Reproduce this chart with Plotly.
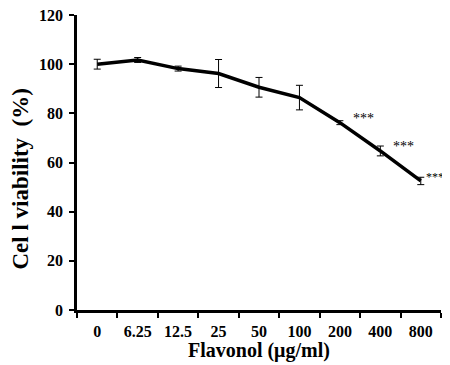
import plotly.graph_objects as go

categories = ["0", "6.25", "12.5", "25", "50", "100", "200", "400", "800"]
viability = [100.0, 101.7, 98.2, 96.2, 90.6, 86.4, 76.2, 64.7, 52.5]
errors = [2.0, 1.0, 1.0, 5.7, 4.0, 5.0, 0.8, 2.0, 1.5]
significance = ["", "", "", "", "", "", "***", "***", "***"]
y_ticks = [0, 20, 40, 60, 80, 100, 120]
x_title = "Flavonol (μg/ml)"
y_title = "Cel l viability  (%)"

FONT = "Liberation Serif"

fig = go.Figure()
fig.add_trace(go.Scatter(
    x=categories, y=viability, mode="lines",
    line=dict(color="black", width=3.5),
    error_y=dict(type="data", array=errors, visible=True, color="black", thickness=1, width=3.5),
    showlegend=False, hoverinfo="skip",
))

star_shift = [0, 0, 0, 0, 0, 0, 12, 12, 4]
star_size = [14, 14, 14, 14, 14, 14, 14, 14, 12]
for i, (v, s) in enumerate(zip(viability, significance)):
    if s:
        fig.add_annotation(x=i, y=v, xref="x", yref="y", text=s, showarrow=False,
                           xanchor="left", yanchor="middle", xshift=star_shift[i], yshift=4,
                           borderpad=0,
                           font=dict(family=FONT, size=star_size[i], color="black"))

# axis titles as annotations (y title sits below the plot centre in the reference)
fig.add_annotation(xref="paper", yref="paper", x=0, y=0.4424, xshift=-57,
                   xanchor="center", yanchor="middle", textangle=-90, showarrow=False,
                   text=y_title, font=dict(family=FONT, size=23, color="black", weight="bold"))
fig.add_annotation(xref="paper", yref="paper", x=0.5, y=-0.1356,
                   xanchor="center", yanchor="middle", showarrow=False,
                   text=x_title, font=dict(family=FONT, size=20, color="black", weight="bold"))

fig.update_layout(
    width=450, height=365,
    margin=dict(l=69, r=17, t=7, b=63, autoexpand=False),
    plot_bgcolor="white", paper_bgcolor="white",
    font=dict(family=FONT, color="black"),
)
fig.update_xaxes(
    type="category", tickson="boundaries", ticks="outside", ticklen=5, tickwidth=2,
    tickcolor="black", showline=True, linecolor="black", linewidth=2.5, showgrid=False,
    automargin=False, ticklabelstandoff=5, ticklabeloverflow="allow",
    tickfont=dict(family=FONT, size=16, color="black", weight="bold"),
    range=[-0.5, 8.5],
)
fig.update_yaxes(
    range=[0, 120], tickvals=y_ticks, ticks="outside", ticklen=5, tickwidth=2,
    tickcolor="black", showline=True, linecolor="black", linewidth=2.5, showgrid=False,
    zeroline=False, automargin=False, ticklabelstandoff=3, ticklabeloverflow="allow",
    tickfont=dict(family=FONT, size=16, color="black", weight="bold"),
)

fig.write_html("out.html")
